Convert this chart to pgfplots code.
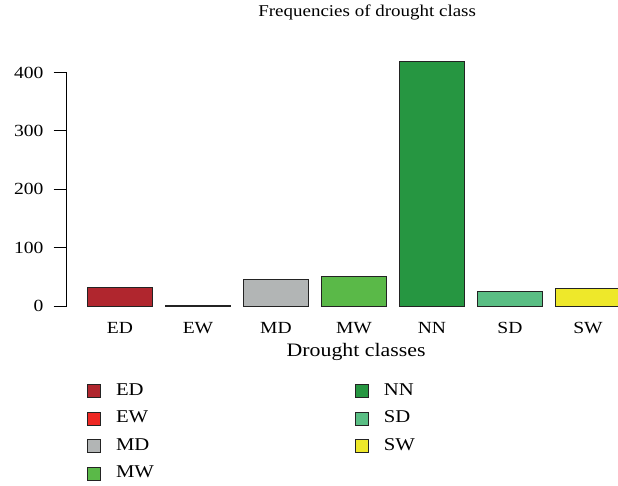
\documentclass[border=0pt]{standalone}
\usepackage{fontspec}
\setmainfont{Liberation Serif}[FakeStretch=1.15]
\usepackage{pgfplots}
\pgfplotsset{compat=1.18}
\definecolor{cED}{RGB}{176,38,46}
\definecolor{cEW}{RGB}{238,40,35}
\definecolor{cMD}{RGB}{178,181,181}
\definecolor{cMW}{RGB}{90,185,72}
\definecolor{cNN}{RGB}{38,150,65}
\definecolor{cSD}{RGB}{90,190,132}
\definecolor{cSW}{RGB}{238,232,42}
\definecolor{edge}{RGB}{35,35,35}
\begin{document}
\fontsize{15}{18}\selectfont
\begin{tikzpicture}
\path[use as bounding box] (0pt,0pt) rectangle (618pt,485pt);
\begin{axis}[
  at={(66.7pt,169.2pt)}, anchor=south west,
  scale only axis, width=551.3pt, height=263.8pt,
  xmin=-0.683, xmax=6.385, ymin=-16.7, ymax=435,
  ybar, bar width=0.8333, bar shift=0pt,
  axis line style={draw=none},
  xtick={0,1,2,3,4,5,6},
  xticklabels={ED,EW,MD,MW,NN,SD,SW},
  xtick style={draw=none},
  ytick={0,100,200,300,400},
  ytick pos=left,
  tick align=outside, major tick length=13pt,
  ytick style={line width=0.8pt, black},
  yticklabel style={xshift=-5pt},
  xticklabel style={yshift=12pt},
  /pgf/number format/assume math mode=true,
  tick label style={font=\fontsize{17}{20}\selectfont},
  title={Frequencies of drought class},
  title style={at={(axis description cs:0.545,1.127)}, anchor=center, yshift=0pt, font=\fontsize{16.5}{19}\selectfont},
  xlabel={Drought classes},
  xlabel style={at={(axis description cs:0.525,-0.137)}, anchor=center, font=\fontsize{19}{21}\selectfont},
  legend columns=2,
  legend style={draw=none, fill=none, at={(axis description cs:0.0368,-0.2585)}, anchor=north west,
    font=\fontsize{18}{20}\selectfont, row sep=13.5pt, inner sep=0pt,
    nodes={inner sep=0pt, text height=11pt, text depth=3pt, anchor=west, font=\fontsize{18}{20}\selectfont},
    /tikz/every odd column/.append style={column sep=15pt},
    /tikz/every even column/.append style={column sep=201pt}},
  legend image code/.code={\draw[#1,draw=edge,line width=0.9pt] (0pt,-6.5pt) rectangle (13pt,6.5pt);},
]
\addplot[fill=cED, draw=edge, line width=0.9pt] coordinates {(0,32)};
\addlegendentry{ED}
\addplot[fill=cNN, draw=edge, line width=0.9pt] coordinates {(4,419)};
\addlegendentry{NN}
\addplot[fill=cEW, draw=edge, line width=0.9pt] coordinates {(1,1)};
\addlegendentry{EW}
\addplot[fill=cSD, draw=edge, line width=0.9pt] coordinates {(5,25)};
\addlegendentry{SD}
\addplot[fill=cMD, draw=edge, line width=0.9pt] coordinates {(2,45)};
\addlegendentry{MD}
\addplot[fill=cSW, draw=edge, line width=0.9pt] coordinates {(6,30)};
\addlegendentry{SW}
\addplot[fill=cMW, draw=edge, line width=0.9pt] coordinates {(3,50)};
\addlegendentry{MW}
\coordinate (y0) at (axis cs:-0.683,0);
\coordinate (y4) at (axis cs:-0.683,400);
\end{axis}
\draw[line width=0.8pt, black] (y0) -- (y4);
\end{tikzpicture}
\end{document}
